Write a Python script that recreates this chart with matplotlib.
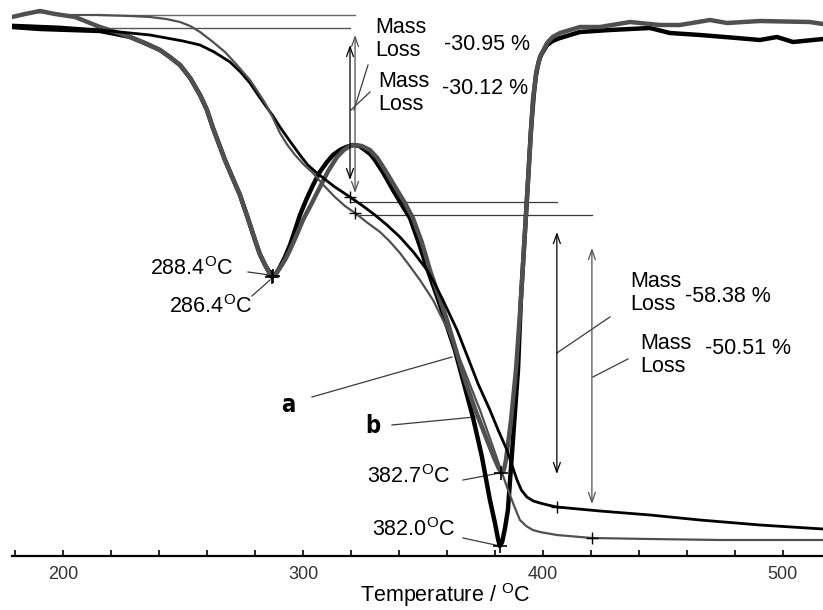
import numpy as np
import matplotlib
matplotlib.use("Agg")
import matplotlib.pyplot as plt
from matplotlib.ticker import MultipleLocator

plt.rcParams['font.family'] = ['Liberation Sans', 'DejaVu Sans']
plt.rcParams['mathtext.fontset'] = 'custom'
plt.rcParams['mathtext.rm'] = 'Liberation Sans'

# data (temperature in degC, signal in arbitrary units)
tg_black_t = [178.75, 198.75, 215.4, 236.25, 250.0, 257.1, 263.0, 269.6, 274.0, 277.9,
              281.0, 284.2, 287.5, 290.4, 294.5, 298.75, 302.0, 305.8, 309.5, 313.3,
              319.6, 325.0, 330.0, 335.0, 340.4, 346.0, 351.7, 355.0, 358.3, 364.2,
              368.3, 373.0, 377.9, 381.5, 385.0, 387.5, 389.2, 391.0, 393.3, 396.0,
              398.75, 402.0, 405.8, 423.75, 444.6, 465.4, 490.4, 516.7]
tg_black_y = [531, 529, 526, 521, 515, 511, 504, 494, 484, 473,
              462, 451, 440, 429, 415, 401, 391, 383, 376, 369,
              359, 350, 341, 331, 319, 304, 286, 272, 256, 226,
              201, 172, 146, 125, 106, 88, 76, 66, 59, 55,
              53, 51, 49, 45, 41, 36, 31, 27]

tg_gray_t = [178.75, 184.0, 190.4, 198.75, 215.4, 228.0, 236.25, 243.0, 248.75, 253.0,
             257.1, 262.0, 267.5, 272.5, 277.9, 281.0, 284.2, 287.5, 290.4, 293.5,
             296.7, 300.5, 304.2, 308.5, 313.3, 317.5, 321.7, 327.0, 332.1, 336.0,
             340.4, 344.5, 348.75, 354.2, 360.4, 366.7, 373.75, 379.2, 385.0, 388.0,
             390.4, 393.0, 395.8, 398.75, 405.8, 420.4, 444.6, 473.75, 516.7]
tg_gray_y = [539, 542, 544, 541, 541, 540, 539, 537, 534, 530,
             524, 515, 504, 491, 476, 465, 453, 438, 423, 411,
             401, 391, 383, 371, 359, 350, 343, 333, 324, 315,
             303, 290, 276, 256, 226, 189, 146, 109, 69, 50,
             36, 30, 26, 24, 21, 18, 17, 16, 16]

dtg_black_t = [178.75, 190.4, 202.9, 215.4, 222.0, 227.9, 234.0, 240.4, 244.5, 248.75,
               253.0, 257.1, 260.0, 262.5, 265.0, 267.5, 270.5, 273.75, 277.0, 280.0,
               282.0, 284.2, 286.0, 287.5, 289.0, 290.4, 292.5, 294.6, 296.7, 298.75,
               301.5, 304.2, 307.0, 310.0, 312.5, 315.4, 318.0, 320.8, 323.5, 325.8,
               328.0, 330.0, 333.5, 337.5, 341.0, 344.6, 348.0, 351.7, 357.1, 363.3,
               370.8, 374.5, 377.9, 380.0, 381.2, 382.0, 383.0, 384.2, 385.4, 387.5,
               389.6, 390.8, 393.3, 395.0, 396.2, 397.1, 398.2, 399.2, 401.7, 404.0,
               407.1, 415.4, 427.9, 444.6, 452.9, 465.4, 480.8, 490.4, 497.5, 504.2,
               516.7]
dtg_black_y = [529, 527, 526, 525, 522, 519, 513, 506, 499, 491,
               478, 461, 446, 428, 412, 396, 379, 361, 338, 316,
               302, 291, 284, 280, 283, 289, 299, 311, 326, 341,
               357, 371, 384, 394, 401, 406, 409, 411, 410, 406,
               402, 396, 383, 366, 352, 338, 315, 288, 251, 206,
               139, 100, 56, 33, 18, 10, 14, 28, 46, 116,
               186, 256, 356, 426, 462, 481, 494, 501, 511, 515,
               518, 524, 526, 528, 523, 521, 518, 516, 519, 514,
               517]

dtg_gray_t = [178.75, 184.2, 190.4, 196.7, 205.0, 215.4, 222.0, 227.9, 234.0, 240.4,
              244.5, 248.75, 253.0, 257.1, 260.0, 262.5, 265.0, 267.5, 270.5, 273.75,
              277.0, 280.0, 282.0, 284.2, 285.7, 287.0, 288.5, 290.4, 292.5, 294.6,
              297.2, 300.0, 303.5, 307.1, 310.5, 314.2, 317.0, 319.6, 321.7, 324.5,
              327.9, 331.0, 334.2, 339.2, 342.5, 345.8, 349.5, 352.9, 360.0, 367.5,
              372.0, 376.7, 379.5, 381.5, 382.7, 383.7, 384.6, 386.7, 388.75, 390.8,
              393.3, 395.8, 397.3, 398.75, 401.7, 404.0, 407.1, 415.4, 423.75, 436.25,
              448.75, 457.1, 469.6, 476.7, 490.4, 511.25, 516.7]
dtg_gray_y = [539, 542, 545, 542, 539, 529, 524, 519, 513, 506,
              499, 491, 478, 461, 446, 428, 412, 396, 379, 361,
              338, 316, 302, 291, 284, 279, 282, 288, 296, 306,
              320, 336, 352, 369, 385, 399, 406, 410, 411, 410,
              406, 398, 386, 366, 353, 338, 314, 286, 236, 176,
              145, 116, 99, 88, 83, 86, 96, 136, 186, 256,
              356, 456, 485, 499, 513, 519, 523, 529, 529, 534,
              531, 531, 536, 533, 535, 534, 532]

# mass loss steps: (start T, end T)
step_black = [319.6, 405.8]
step_gray = [321.7, 420.4]
loss_labels = ['-30.95 %', '-30.12 %', '-58.38 %', '-50.51 %']
peak_labels = ['288.4', '286.4', '382.7', '382.0']
peak_t = [287.5, 287.0, 382.7, 382.0]

BLACK = '#000000'
GRAY = '#505050'
LINE = '#3a3a3a'

fig = plt.figure(figsize=(8.23, 6.10), dpi=100)
ax = fig.add_axes([12 / 823, 54 / 610, 811 / 823, 556 / 610])
ax.set_xlim(178.75, 516.7)
ax.set_ylim(0, 556)

ax.plot(dtg_black_t, dtg_black_y, color=BLACK, lw=3.2, solid_joinstyle='round', zorder=3)
ax.plot(dtg_gray_t, dtg_gray_y, color=GRAY, lw=3.2, solid_joinstyle='round', zorder=3)
ax.plot(tg_black_t, tg_black_y, color=BLACK, lw=2.0, zorder=4)
ax.plot(tg_gray_t, tg_gray_y, color=GRAY, lw=1.6, zorder=4)

# points on the TG curves where the steps are measured
yb = np.interp(step_black, tg_black_t, tg_black_y)
yg = np.interp(step_gray, tg_gray_t, tg_gray_y)
ax.plot(step_black, yb, '+', color=BLACK, ms=8, mew=1.0, zorder=5)
ax.plot(step_gray, yg, '+', color=BLACK, ms=8, mew=1.0, zorder=5)

# dtg peak markers
yp = [np.interp(peak_t[0], dtg_black_t, dtg_black_y), np.interp(peak_t[1], dtg_gray_t, dtg_gray_y),
      np.interp(peak_t[2], dtg_gray_t, dtg_gray_y), np.interp(peak_t[3], dtg_black_t, dtg_black_y)]
ax.plot(peak_t, yp, '+', color=BLACK, ms=10, mew=1.2, zorder=5)

# reference lines
ax.plot([215, step_gray[0]], [541, 541], color='#666666', lw=1.0, zorder=2)
ax.plot([205, step_black[0]], [528, 528], color='#555555', lw=1.0, zorder=2)
ax.plot([step_black[0], step_black[1]], [354, 354], color=LINE, lw=0.9, zorder=2)
ax.plot([step_gray[0], step_gray[1]], [341, 341], color=LINE, lw=0.9, zorder=2)

arw = dict(arrowstyle='<->,head_length=0.7,head_width=0.25', lw=0.9, shrinkA=0, shrinkB=0)
ax.annotate('', xy=(step_black[0], 376), xytext=(step_black[0], 511),
            arrowprops=dict(arw, color=BLACK))
ax.annotate('', xy=(step_gray[0], 363), xytext=(step_gray[0], 521),
            arrowprops=dict(arw, color=GRAY))
ax.annotate('', xy=(step_black[1], 82), xytext=(step_black[1], 324),
            arrowprops=dict(arw, color=BLACK))
ax.annotate('', xy=(step_gray[1], 52), xytext=(step_gray[1], 308),
            arrowprops=dict(arw, color=GRAY))

fs = 15.5
ml = dict(fontsize=fs, ha='left', va='center', linespacing=1.15)
ax.text(330.0, 517, 'Mass\nLoss', **ml)
ax.text(358.75, 512, loss_labels[0], fontsize=fs, ha='left', va='center')
ax.text(331.25, 463, 'Mass\nLoss', **ml)
ax.text(357.9, 468, loss_labels[1], fontsize=fs, ha='left', va='center')
ax.text(436.25, 263, 'Mass\nLoss', **ml)
ax.text(459.2, 260, loss_labels[2], fontsize=fs, ha='left', va='center')
ax.text(440.4, 201, 'Mass\nLoss', **ml)
ax.text(467.5, 208, loss_labels[3], fontsize=fs, ha='left', va='center')

# leader lines
leaders = [((327.1, 491), (321.25, 446)), ((327.9, 464), (320.0, 446)),
           ((427.9, 239), (405.8, 203)), ((435.4, 197), (420.8, 179)),
           ((277.1, 284), (286.25, 281)), ((278.75, 260), (286.25, 276)),
           ((366.7, 76), (382.1, 83)), ((366.7, 18), (382.1, 10)),
           ((303.75, 159), (362.1, 199)), ((337.1, 131), (371.7, 139))]
for (x0, y0), (x1, y1) in leaders:
    ax.plot([x0, x1], [y0, y1], color=LINE, lw=0.9, zorder=2)

ax.text(271.0, 287, peak_labels[0] + r'$^{\mathrm{O}}$C', fontsize=fs, ha='right', va='center')
ax.text(278.75, 249, peak_labels[1] + r'$^{\mathrm{O}}$C', fontsize=fs, ha='right', va='center')
ax.text(361.25, 79, peak_labels[2] + r'$^{\mathrm{O}}$C', fontsize=fs, ha='right', va='center')
ax.text(363.3, 26, peak_labels[3] + r'$^{\mathrm{O}}$C', fontsize=fs, ha='right', va='center')

lab = dict(fontsize=17, fontweight='bold', fontstretch='condensed',
           family=['Liberation Sans Narrow', 'DejaVu Sans'], ha='center', va='center')
ax.text(293.75, 151, 'a', **lab)
ax.text(329.2, 130, 'b', **lab)

# axes
for s in ['left', 'right', 'top']:
    ax.spines[s].set_visible(False)
ax.spines['bottom'].set_linewidth(1.6)
ax.set_yticks([])
ax.xaxis.set_major_locator(MultipleLocator(100))
ax.xaxis.set_minor_locator(MultipleLocator(20))
ax.tick_params(axis='x', which='both', direction='in', length=4, width=1.2)
ax.tick_params(axis='x', which='major', labelsize=13, labelcolor='#333333', pad=7)
ax.text(0.534, -(595 - 556) / 556, r'Temperature / $^{\mathrm{O}}$C', fontsize=fs,
        ha='center', va='center', transform=ax.transAxes)

fig.savefig('out.png', dpi=100)
